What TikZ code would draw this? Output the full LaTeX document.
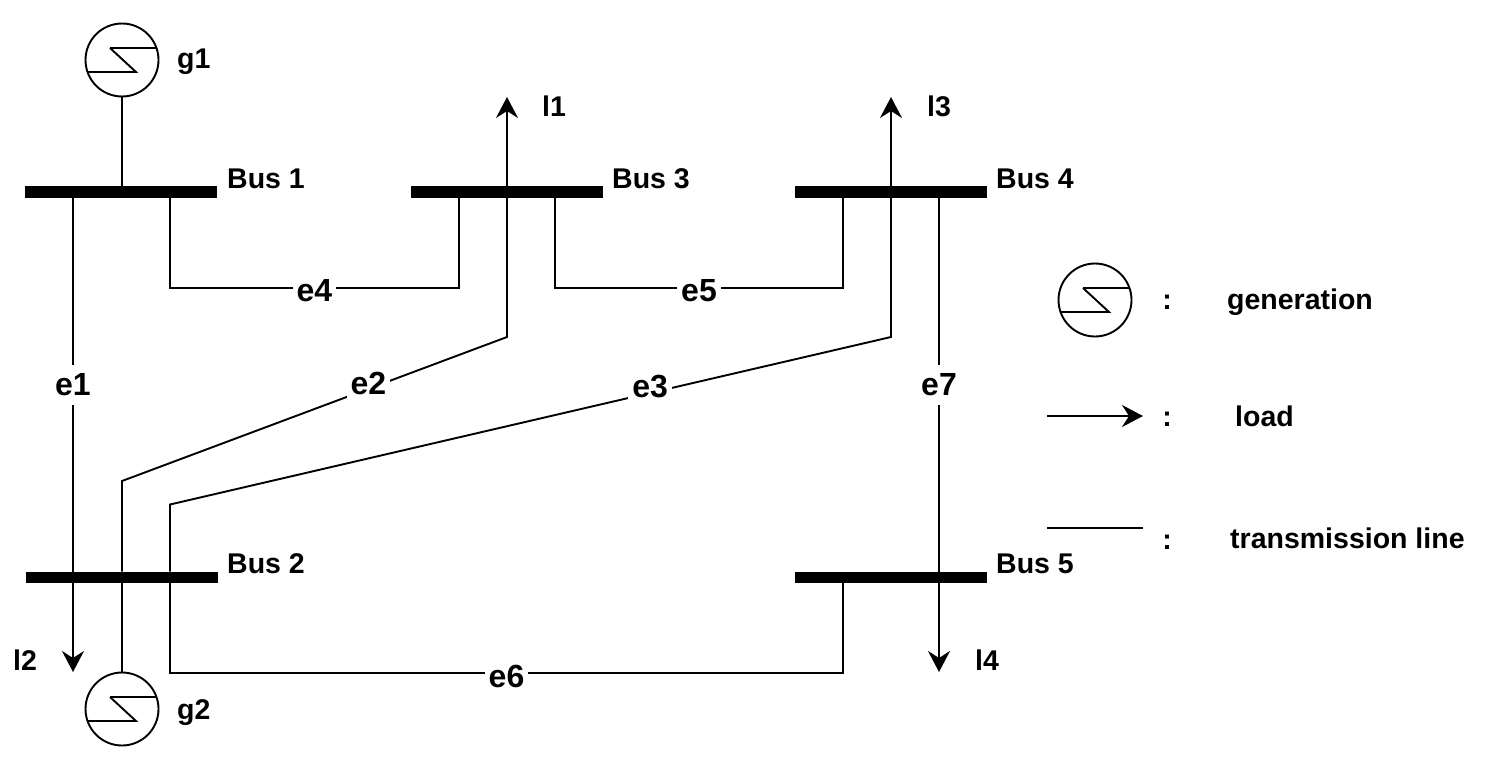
\documentclass[tikz,border=0pt]{standalone}
\usepackage{fontspec}
\setmainfont{Liberation Sans}
\usetikzlibrary{arrows.meta,calc}
\tikzset{
  txt/.style={font=\fontsize{28.5}{31}\selectfont\bfseries, inner sep=0pt},
  bus/.style={fill=black, draw=none, minimum width=192pt, minimum height=11.5pt, inner sep=0pt},
  wire/.style={line width=1.9pt},
  load/.style={line width=1.9pt, -{Stealth[length=21pt,width=22pt,inset=7pt]}},
  lbl/.style={font=\fontsize{32}{35}\selectfont\bfseries, fill=white, inner xsep=4pt, inner ysep=9pt},
  gen/.style={circle, draw, line width=1.9pt, minimum size=73pt, inner sep=0pt,
    path picture={
      \draw[line width=1.9pt]
        ([shift={(-12,-12)}]path picture bounding box.center) -- ++(60,0)
        ([shift={(-12,-12)}]path picture bounding box.center) -- ([shift={(14,12)}]path picture bounding box.center) -- ++(-60,0);
    }}
}
\begin{document}
\begin{tikzpicture}[x=1pt,y=-1pt]
\useasboundingbox (0,0) rectangle (1498,768);

% buses
\node[bus] (b1) at (121,192) {};
\node[bus] (b3) at (506.5,192) {};
\node[bus] (b4) at (891,192) {};
\node[bus] (b2) at (121.5,577.5) {};
\node[bus] (b5) at (891,577.5) {};

\node[txt, anchor=base west] (tb1) at (227,188) {Bus 1};
\node[txt, anchor=base west] (tb3) at (612,188) {Bus 3};
\node[txt, anchor=base west] (tb4) at (996,188) {Bus 4};
\node[txt, anchor=base west] (tb2) at (227,573) {Bus 2};
\node[txt, anchor=base west] (tb5) at (996,573) {Bus 5};

% generators
\node[gen] (g1) at (122,60) {};
\node[gen] (g2) at (122,709) {};
\node[txt, anchor=base west] (tg1) at (177,69) {g1};
\node[txt, anchor=base west] (tg2) at (177,719) {g2};

\draw[wire] (g1.south) -- (g1.south |- b1.north);
\draw[wire] (g2.north) -- (g2.north |- b2.south);

% coordinates for routing
\coordinate (c4a) at (170,288);
\coordinate (c4b) at (459,288);
\coordinate (c5a) at (555,288);
\coordinate (c5b) at (843,288);
\coordinate (c2a) at (507,337);
\coordinate (c2b) at (122,481);
\coordinate (c3a) at (891,337);
\coordinate (c3b) at (170,504.5);
\coordinate (c6a) at (170,673);
\coordinate (c6b) at (843,673);
\coordinate (x1) at (73,0);
\coordinate (x7) at (939,0);
\coordinate (l1t) at (507,97);
\coordinate (l3t) at (891,97);
\coordinate (l2t) at (73,672);
\coordinate (l4t) at (939,672);

% lines
\draw[wire] (b1.south -| x1) -- node[lbl] {e1} (b2.north -| x1);
\draw[wire] (b1.south -| c4a) -- (c4a) -- node[lbl, yshift=-3pt] {e4} (c4b) -- (b3.south -| c4b);
\draw[wire] (b3.south -| c5a) -- (c5a) -- node[lbl, yshift=-3pt] {e5} (c5b) -- (b4.south -| c5b);
\draw[wire] (b3.south -| c2a) -- (c2a) -- node[lbl, pos=0.36, yshift=5pt] {e2} (c2b) -- (b2.north -| c2b);
\draw[wire] (b4.south -| c3a) -- (c3a) -- node[lbl, pos=0.334, yshift=6pt] {e3} (c3b) -- (b2.north -| c3b);
\draw[wire] (b2.south -| c6a) -- (c6a) -- node[lbl, yshift=-3pt] {e6} (c6b) -- (b5.south -| c6b);
\draw[wire] (b4.south -| x7) -- node[lbl] {e7} (b5.north -| x7);

% loads
\draw[load] (b3.north -| l1t) -- (l1t);
\draw[load] (b4.north -| l3t) -- (l3t);
\draw[load] (b2.south -| l2t) -- (l2t);
\draw[load] (b5.south -| l4t) -- (l4t);
\node[txt, anchor=base west] (tl1) at (542,116.5) {l1};
\node[txt, anchor=base west] (tl3) at (927,116.5) {l3};
\node[txt, anchor=base west] (tl2) at (13,670) {l2};
\node[txt, anchor=base west] (tl4) at (975,670) {l4};

% legend
\node[gen] (gl) at (1095,300) {};
\coordinate (la1) at (1047,416);
\coordinate (la2) at (1143,416);
\coordinate (lt1) at (1047,528);
\coordinate (lt2) at (1143,528);
\draw[load] (la1) -- (la2);
\draw[wire] (lt1) -- (lt2);
\node[txt, anchor=base] (k1) at (1167,309) {:};
\node[txt, anchor=base] (k2) at (1167,426) {:};
\node[txt, anchor=base] (k3) at (1167,549) {:};
\node[txt, anchor=base west] (d1) at (1227,309) {generation};
\node[txt, anchor=base west] (d2) at (1235,426) {load};
\node[txt, anchor=base west] (d3) at (1230,548) {transmission line};
\end{tikzpicture}
\end{document}
